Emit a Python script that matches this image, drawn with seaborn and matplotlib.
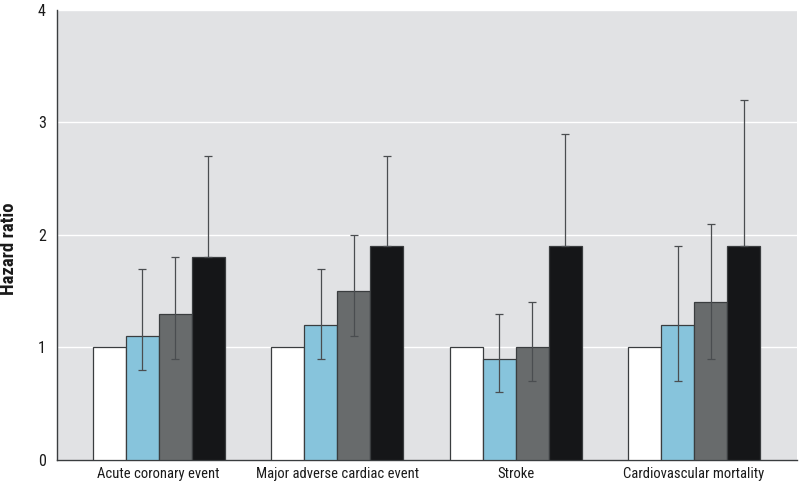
import matplotlib
matplotlib.use("Agg")
import matplotlib.pyplot as plt
from matplotlib.container import BarContainer
import seaborn as sns
import numpy as np
import pandas as pd

outcomes = ["Acute coronary event", "Major adverse cardiac event", "Stroke", "Cardiovascular mortality"]
groups = ["Reference", "Group 2", "Group 3", "Group 4"]

# hazard ratios per group (rows follow outcomes)
hr_ref = [1.0, 1.0, 1.0, 1.0]
hr_g2 = [1.1, 1.2, 0.9, 1.2]
hr_g3 = [1.3, 1.5, 1.0, 1.4]
hr_g4 = [1.8, 1.9, 1.9, 1.9]

# 95% CI bounds (reference has none; lower bound of group 4 hidden behind the bar)
lo_g2 = [0.8, 0.9, 0.6, 0.7]
hi_g2 = [1.7, 1.7, 1.3, 1.9]
lo_g3 = [0.9, 1.1, 0.7, 0.9]
hi_g3 = [1.8, 2.0, 1.4, 2.1]
lo_g4 = [1.8, 1.9, 1.9, 1.9]
hi_g4 = [2.7, 2.7, 2.9, 3.2]

colors = ["#ffffff", "#87c4dc", "#686b6c", "#151618"]

df = pd.DataFrame({
    "outcome": outcomes * 4,
    "group": np.repeat(groups, 4),
    "hr": hr_ref + hr_g2 + hr_g3 + hr_g4,
})

sns.set_style("white")
plt.rcParams["font.family"] = ["Roboto Condensed", "Liberation Sans Narrow", "Roboto", "DejaVu Sans"]

fig = plt.figure(figsize=(8, 4.84), dpi=100)
ax = fig.add_axes([0.071, 0.0496, 0.925, 0.9298])
ax.set_facecolor("#e1e2e4")

sns.barplot(data=df, x="outcome", y="hr", hue="group", palette=colors,
            saturation=1, width=0.74, gap=0, legend=False, ax=ax,
            edgecolor="#3a3d3f", linewidth=0.9, errorbar=None, zorder=3)

bars = [c for c in ax.containers if isinstance(c, BarContainer)]
cis = [None, (lo_g2, hi_g2), (lo_g3, hi_g3), (lo_g4, hi_g4)]
vals = [hr_ref, hr_g2, hr_g3, hr_g4]
for k, cont in enumerate(bars):
    if cis[k] is None:
        continue
    lo, hi = cis[k]
    xs = [b.get_x() + b.get_width() / 2 for b in cont]
    v = np.array(vals[k])
    yerr = [v - np.array(lo), np.array(hi) - v]
    ax.errorbar(xs, v, yerr=yerr, fmt="none", ecolor="#4a4d50",
                elinewidth=0.9, capsize=3, capthick=0.9, zorder=4)

ax.set_ylim(0, 4)
ax.set_xlim(-0.571, 3.576)
ax.set_yticks([0, 1, 2, 3, 4])
ax.set_yticklabels(["0", "1", "2", "3", "4"])
ax.yaxis.grid(True, color="white", linewidth=1.0, zorder=0)
ax.set_axisbelow(True)

ax.set_xticks([0.5, 1.5, 2.5], minor=True)
ax.tick_params(axis="x", which="minor", length=4, color="#888888", width=0.8)
ax.tick_params(axis="x", which="major", length=0, pad=5, labelsize=10.5, labelcolor="#1a1a1a")
ax.tick_params(axis="y", length=0, pad=8, labelsize=11.5, labelcolor="#1a1a1a")

for s in ["top", "right"]:
    ax.spines[s].set_visible(False)
ax.spines["left"].set_color("#3a3d3f")
ax.spines["bottom"].set_color("#3a3d3f")
ax.spines["left"].set_linewidth(1.0)
ax.spines["bottom"].set_linewidth(1.0)

ax.set_xlabel("")
ax.set_ylabel("Hazard ratio", fontsize=13.5, fontweight="bold", color="#1a1a1a")
ax.yaxis.set_label_coords(-0.052, 0.47)

fig.savefig("out.png", dpi=100)
